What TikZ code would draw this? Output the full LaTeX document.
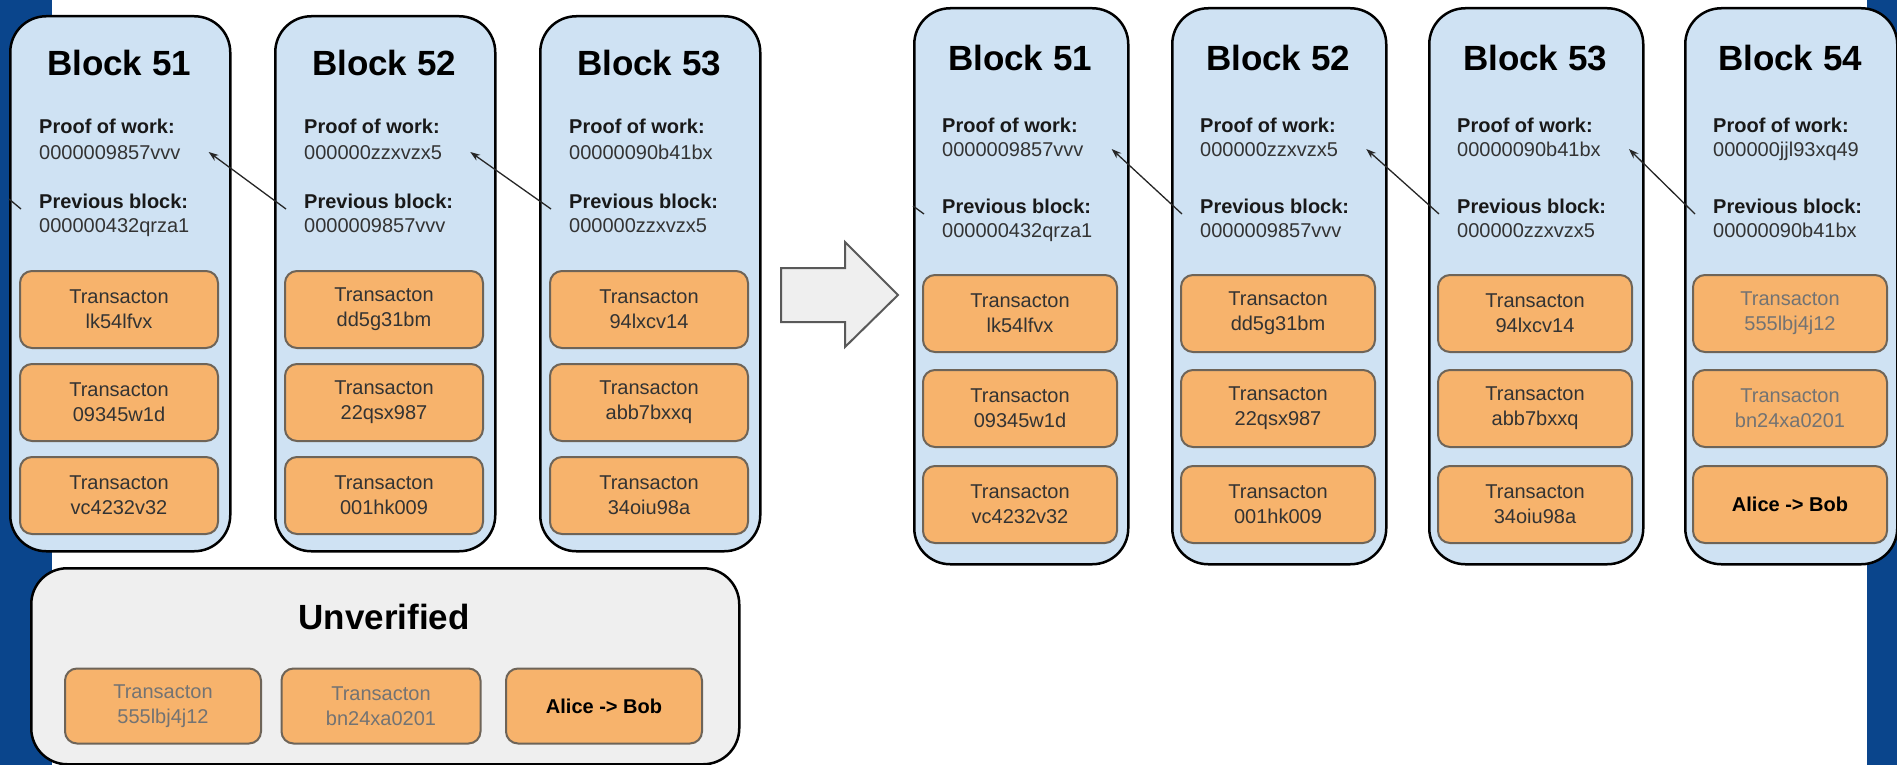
\documentclass[tikz,border=0pt]{standalone}
\usepackage{fontspec}
\setmainfont{Liberation Sans}
\usetikzlibrary{arrows.meta}
\definecolor{blockblue}{HTML}{CFE2F3}
\definecolor{txorange}{HTML}{F7B36C}
\definecolor{txedge}{HTML}{6E6458}
\definecolor{poolgray}{HTML}{EFEFEF}
\definecolor{slideblue}{HTML}{0A458C}
\definecolor{valgray}{HTML}{333333}
\begin{document}
\begin{tikzpicture}[x=1pt,y=-1pt,
    block/.style={draw, line width=2.5pt, fill=blockblue, rounded corners=36pt, anchor=north west, inner sep=0pt},
    blocktitle/.style={font=\fontsize{35}{42}\selectfont\bfseries},
    lbl/.style={anchor=west, inner sep=0pt, text height=15pt, text depth=1pt, font=\fontsize{20}{25}\selectfont\bfseries, text=black!90},
    val/.style={anchor=west, inner sep=0pt, text height=15pt, text depth=1pt, font=\fontsize{20}{25}\selectfont, text=valgray},
    tx/.style={draw=txedge, line width=2pt, fill=txorange, rounded corners=12pt, minimum height=77pt, align=center, font=\fontsize{20}{25}\selectfont, text=valgray, inner sep=0pt},
    txgray/.style={tx, text=black!55},
    txbold/.style={tx, text=black, font=\fontsize{20}{25}\selectfont\bfseries},
    chainlink/.style={-{Stealth[length=10pt,width=7pt]}, line width=1.3pt, black!85},
    linktail/.style={line width=1.3pt, black!85}]
    \useasboundingbox (0,0) rectangle (1897,765);
    \fill[white] (0,0) rectangle (1897,765);
    \fill[slideblue] (0,0) rectangle (52,765);
    \fill[slideblue] (1867,0) rectangle (1897,765);
    % chain before
    \foreach \n/\bx/\pow/\prev/\ta/\tb/\tc in {
        51/9/0000009857vvv/000000432qrza1/lk54lfvx/09345w1d/vc4232v32,
        52/274/000000zzxvzx5/0000009857vvv/dd5g31bm/22qsx987/001hk009,
        53/539/00000090b41bx/000000zzxvzx5/94lxcv14/abb7bxxq/34oiu98a}
    {
        \node[block, minimum width=220pt, minimum height=535pt] (L\n) at (\bx,15) {};
        \node[blocktitle] (L\n-name) at (\bx+110,63) {Block \n};
        \node[lbl] (L\n-pow) at (\bx+30,127) {Proof of work:};
        \node[val] (L\n-powv) at (\bx+30,152) {\pow};
        \node[lbl] (L\n-prev) at (\bx+30,201) {Previous block:};
        \node[val] (L\n-prevv) at (\bx+30,225) {\prev};
        \node[tx, minimum width=198pt] (L\n-t1) at (\bx+110,309.5) {Transacton\\\ta};
        \node[tx, minimum width=198pt] (L\n-t2) at (\bx+110,402.5) {Transacton\\\tb};
        \node[tx, minimum width=198pt] (L\n-t3) at (\bx+110,495.5) {Transacton\\\tc};
    }
    \coordinate (L50) at (9,199);
    \draw[linktail] ([xshift=-18pt,yshift=-8pt]L51-prev.west) -- (L50);
    \foreach \a/\b in {51/52,52/53}
    {
        \draw[chainlink] ([xshift=-18pt,yshift=-8pt]L\b-prev.west) -- ([xshift=28pt]L\a-powv.east);
    }
    % waiting transactions
    \node[block, fill=poolgray, minimum width=708pt, minimum height=196pt] (U) at (30,567) {};
    \node[blocktitle] (U-name) at (384,617) {Unverified};
    \node[txgray, minimum width=196pt, minimum height=75pt] (U-t1) at (163,706) {Transacton\\555lbj4j12};
    \node[txgray, minimum width=199pt, minimum height=75pt] (U-t2) at (381,706) {Transacton\\bn24xa0201};
    \node[txbold, minimum width=196pt, minimum height=75pt] (U-t3) at (604,706) {Alice -> Bob};
    % big arrow
    \draw[draw=black!65, fill=poolgray, line width=2pt] (781,268) -- (845,268) -- (845,242) -- (898,295)
        -- (845,347) -- (845,322) -- (781,322) -- cycle;
    % chain after
    \foreach \n/\bx/\pow/\prev/\ta/\tb/\tc in {
        51/913/0000009857vvv/000000432qrza1/lk54lfvx/09345w1d/vc4232v32,
        52/1171/000000zzxvzx5/0000009857vvv/dd5g31bm/22qsx987/001hk009,
        53/1428/00000090b41bx/000000zzxvzx5/94lxcv14/abb7bxxq/34oiu98a}
    {
        \node[block, minimum width=214pt, minimum height=556pt] (R\n) at (\bx,7) {};
        \node[blocktitle] (R\n-name) at (\bx+107,58) {Block \n};
        \node[lbl] (R\n-pow) at (\bx+29,125) {Proof of work:};
        \node[val] (R\n-powv) at (\bx+29,149) {\pow};
        \node[lbl] (R\n-prev) at (\bx+29,206) {Previous block:};
        \node[val] (R\n-prevv) at (\bx+29,230) {\prev};
        \node[tx, minimum width=194pt] (R\n-t1) at (\bx+107,313.5) {Transacton\\\ta};
        \node[tx, minimum width=194pt] (R\n-t2) at (\bx+107,408.5) {Transacton\\\tb};
        \node[tx, minimum width=194pt] (R\n-t3) at (\bx+107,504.5) {Transacton\\\tc};
    }
    \node[block, minimum width=212pt, minimum height=556pt] (R54) at (1684,7) {};
    \node[blocktitle] (R54-name) at (1790,58) {Block 54};
    \node[lbl] (R54-pow) at (1713,125) {Proof of work:};
    \node[val] (R54-powv) at (1713,149) {000000jjl93xq49};
    \node[lbl] (R54-prev) at (1713,206) {Previous block:};
    \node[val] (R54-prevv) at (1713,230) {00000090b41bx};
    \node[txgray, minimum width=194pt] (R54-t1) at (1790,313.5) {Transacton\\555lbj4j12};
    \node[txgray, minimum width=194pt] (R54-t2) at (1790,408.5) {Transacton\\bn24xa0201};
    \node[txbold, minimum width=194pt] (R54-t3) at (1790,504.5) {Alice -> Bob};
    \coordinate (R50) at (913,206);
    \draw[linktail] ([xshift=-18pt,yshift=-8pt]R51-prev.west) -- (R50);
    \foreach \a/\b in {51/52,52/53,53/54}
    {
        \draw[chainlink] ([xshift=-18pt,yshift=-8pt]R\b-prev.west) -- ([xshift=28pt]R\a-powv.east);
    }
\end{tikzpicture}
\end{document}
